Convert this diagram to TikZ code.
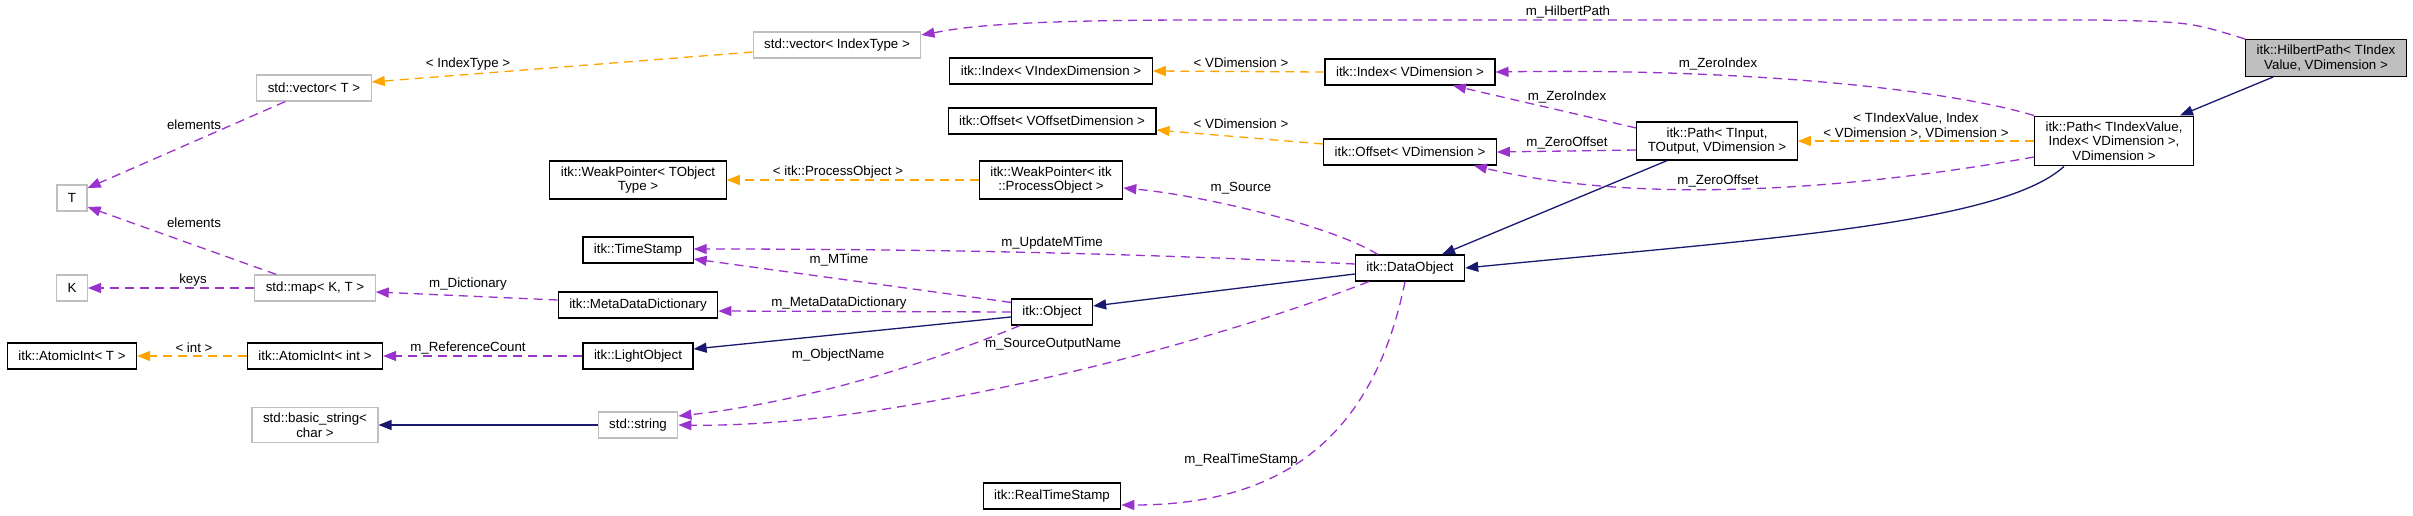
\documentclass[tikz,border=0pt]{standalone}
\usepackage{fontspec}
\setmainfont{Liberation Sans}
\usepackage{tikz}
\usetikzlibrary{arrows.meta}

\definecolor{usecol}{HTML}{9A32CD}
\definecolor{tplcol}{HTML}{FFA500}
\definecolor{inhcol}{HTML}{191970}
\definecolor{boxgray}{HTML}{BFBFBF}

\begin{document}
\begin{tikzpicture}[x=1pt,y=-1pt,
		font=\fontsize{13.3}{14.5}\selectfont,
		cls/.style={draw=black,line width=1.2pt,fill=white,align=center,inner xsep=11pt,inner ysep=5.5pt,minimum height=26pt},
		ext/.style={cls,draw=boxgray},
		cur/.style={cls,fill=boxgray},
		lbl/.style={inner sep=1pt,align=center},
		uses/.style={draw=usecol,line width=1.3pt,dash pattern=on 9pt off 6pt,-{Triangle[length=13pt,width=10pt]}},
		tmpl/.style={uses,draw=tplcol},
		inh/.style={draw=inhcol,line width=1.3pt,-{Triangle[length=13pt,width=10pt]}}]
			% Rahmen
			\path[use as bounding box,fill=white] (0,0) rectangle (2413,515);
			
			% Klassen
			\node[cur] (hilb) at (2326,58) {itk::HilbertPath< TIndex\\Value, VDimension >};
			\node[cls] (pathiv) at (2114,141) {itk::Path< TIndexValue,\\Index< VDimension >,\\VDimension >};
			\node[cls] (pathin) at (1717,141) {itk::Path< TInput,\\TOutput, VDimension >};
			\node[ext] (vecidx) at (837,45) {std::vector< IndexType >};
			\node[ext] (vect) at (314,88) {std::vector< T >};
			\node[cls] (idxvi) at (1051,71) {itk::Index< VIndexDimension >};
			\node[cls] (idxv) at (1410,72) {itk::Index< VDimension >};
			\node[cls] (offvo) at (1052,121) {itk::Offset< VOffsetDimension >};
			\node[cls] (offv) at (1410,152) {itk::Offset< VDimension >};
			\node[cls] (wpto) at (638,180) {itk::WeakPointer< TObject\\Type >};
			\node[cls] (wpio) at (1051,180) {itk::WeakPointer< itk\\::ProcessObject >};
			\node[ext] (tnode) at (72,198) {T};
			\node[cls] (tstamp) at (638,250) {itk::TimeStamp};
			\node[ext] (knode) at (72,288) {K};
			\node[ext] (map) at (315,288) {std::map< K, T >};
			\node[cls] (mdd) at (638,305) {itk::MetaDataDictionary};
			\node[cls] (dataobj) at (1410,268) {itk::DataObject};
			\node[cls] (obj) at (1052,312) {itk::Object};
			\node[cls] (aintt) at (72,356) {itk::AtomicInt< T >};
			\node[cls] (aint) at (315,356) {itk::AtomicInt< int >};
			\node[cls] (light) at (638,356) {itk::LightObject};
			\node[ext] (bstr) at (315,425) {std::basic\_string<\\char >};
			\node[ext] (str) at (638,425) {std::string};
			\node[cls] (rts) at (1052,496) {itk::RealTimeStamp};
			
			% Vererbung
			\draw[inh] ([xshift=28pt]hilb.south west) -- ([xshift=-14pt]pathiv.north east);
			\draw[inh] ([xshift=30pt]pathiv.south west) .. controls (2000,225) and (1750,240) .. (dataobj.east);
			\draw[inh] ([xshift=31pt]pathin.south west) -- ([xshift=32pt]dataobj.north);
			\draw[inh] ([yshift=-6pt]dataobj.west) -- ([yshift=6pt]obj.east);
			\draw[inh] ([yshift=-5pt]obj.west) -- ([yshift=7pt]light.east);
			\draw[inh] (str.west) -- (bstr.east);
			
			% Template-Instanzen
			\draw[tmpl] (pathiv.west) -- (pathin.east);
			\draw[tmpl] (idxv.west) -- (idxvi.east);
			\draw[tmpl] ([yshift=8pt]offv.west) -- ([yshift=-9pt]offvo.east);
			\draw[tmpl] (wpio.west) -- (wpto.east);
			\draw[tmpl] ([yshift=-7pt]vecidx.west) -- ([yshift=6pt]vect.east);
			\draw[tmpl] (aint.west) -- (aintt.east);
			
			% Member
			\draw[uses] (hilb.north west) .. controls (2190,22) .. (2100,20) -- (1200,20)
				.. controls (1000,20) and (960,28) .. ([yshift=10pt]vecidx.east);
			\draw[uses] (pathiv.north west) .. controls (1950,90) and (1750,68) .. (idxv.east);
			\draw[uses] ([yshift=-16pt]pathiv.west) .. controls (1850,190) and (1640,205) .. ([xshift=-23pt]offv.south east);
			\draw[uses] ([yshift=13pt]pathin.west) -- ([xshift=43pt]idxv.south);
			\draw[uses] ([yshift=-9pt]pathin.west) -- (offv.east);
			\draw[uses] ([xshift=23pt]dataobj.north west) .. controls (1330,225) and (1200,195) .. ([yshift=-8pt]wpio.east);
			\draw[uses] ([yshift=4pt]dataobj.west) .. controls (1150,254) and (950,249) .. ([yshift=1pt]tstamp.east);
			\draw[uses] ([yshift=-4pt]obj.north west) -- ([yshift=-9pt]tstamp.east);
			\draw[uses] (obj.west) -- ([yshift=-6pt]mdd.east);
			\draw[uses] ([xshift=9pt]obj.south west) .. controls (900,375) and (780,405) .. ([yshift=9pt]str.east);
			\draw[uses] ([xshift=14pt]dataobj.south west) .. controls (1220,340) and (900,428) .. (str.east);
			\draw[uses] ([xshift=-5pt]dataobj.south) .. controls (1375,430) and (1290,505) .. ([yshift=-9pt]rts.east);
			\draw[uses] ([yshift=5pt]mdd.west) -- ([yshift=-4pt]map.east);
			\draw[uses] (map.west) -- (knode.east);
			\draw[uses] ([xshift=22pt]map.north west) -- ([yshift=-9pt]tnode.east);
			\draw[uses] ([xshift=29pt]vect.south west) -- ([yshift=10pt]tnode.east);
			\draw[uses] (light.west) -- (aint.east);
			
			% Beschriftungen
			\foreach \n/\x/\y/\t in {hp/1568/12/m\_HilbertPath, zia/1718/64/m\_ZeroIndex,
				zib/1567/97/m\_ZeroIndex, zoa/1567/143/m\_ZeroOffset, zob/1718/181/m\_ZeroOffset,
				vda/1241/63/< VDimension >, vdb/1241/124/< VDimension >,
				po/838/172/< itk::ProcessObject >, src/1241/188/m\_Source,
				umt/1052/243/m\_UpdateMTime, mt/839/260/m\_MTime,
				mdd/839/303/m\_MetaDataDictionary, on/838/355/m\_ObjectName,
				son/1053/344/m\_SourceOutputName, rts/1241/460/m\_RealTimeStamp,
				it/468/64/< IndexType >, ela/194/125/elements, elb/194/223/elements,
				keys/193/280/keys, dict/468/284/m\_Dictionary,
				int/194/348/< int >, rc/468/348/m\_ReferenceCount} {
				\node[lbl] (l\n) at (\x,\y) {\t};
			}
			\node[lbl] (ltpl) at (1916,126) {< TIndexValue, Index\\< VDimension >, VDimension >};
		\end{tikzpicture}
\end{document}
